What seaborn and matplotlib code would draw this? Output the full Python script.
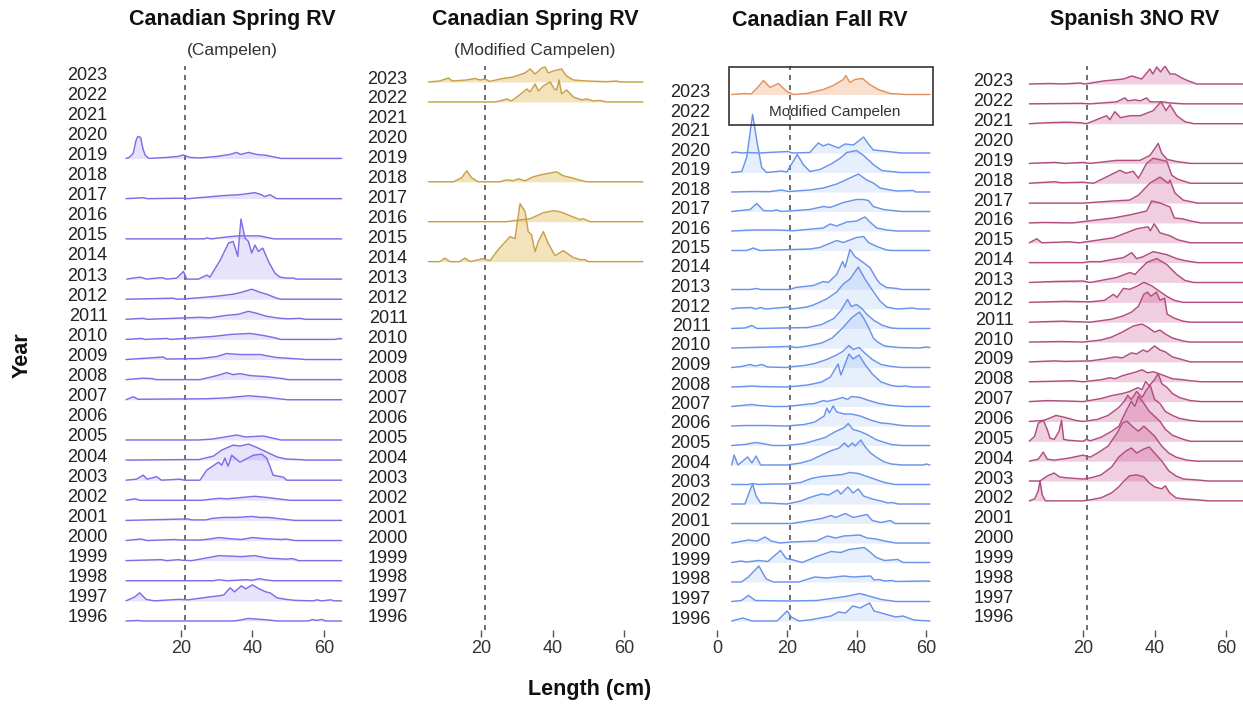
import matplotlib
matplotlib.use('Agg')
import matplotlib.pyplot as plt
from matplotlib.patches import Rectangle
import pandas as pd
import seaborn as sns

sns.set_theme(style='white')
plt.rcParams['font.family'] = ['Liberation Sans', 'DejaVu Sans']

# length frequencies per survey year: (length cm, relative frequency)
spring_camp = {
    2019: [(4.6,0),(5.5,1),(6.6,5),(7.4,18),(7.9,22),(8.7,21),(9.3,10),(10,3),(11,0),(16,1),(19.2,2),(20.6,3.5),(22.5,1),(25.3,0.5),(30,2),(33.7,4),(35.6,6),(36.7,4),(38.9,6),(41.2,4),(44,3),(46.8,1),(48,0),(65,0)],
    2017: [(4.6,0),(9.4,1),(10.5,0),(20.5,0.5),(22,0),(31.7,3),(36.5,4),(40.7,6),(42.5,4),(43.5,2),(44.9,4),(46.8,0),(65,0)],
    2015: [(4.6,0),(26.5,0),(27.2,1),(28.5,0),(33,2),(36,3),(42,3),(46,0),(65,0)],
    2013: [(4.8,0),(8.5,2),(10.4,0),(14.6,1.5),(16,0),(18.8,1),(20.7,7.7),(21.6,0),(24.9,0),(27.2,4),(28.1,2),(31,19),(33.3,36),(34.6,37.7),(35.9,22.7),(36.8,60),(37.9,41),(38.9,37.7),(39.8,26),(40.7,34),(41.7,27.7),(42.9,31),(44.5,17.7),(46.3,6),(47.7,2),(49.6,1),(51.5,1),(52.4,0),(65,0)],
    2012: [(4.6,0),(17.8,1),(19,0),(21.6,0.5),(25.3,1.5),(30,3),(34.6,5),(37,7),(39.8,10),(42.1,7),(44,5),(46.8,1),(48,0),(65,0)],
    2011: [(4.6,0),(9.4,1),(10.5,0),(25.3,2),(28,1.5),(32.8,4),(36,5),(38.9,8),(41.2,6),(44,3),(47.7,1),(50,0.5),(53.3,1),(55,0),(65,0)],
    2010: [(4.6,0),(9,1),(10,0),(16,1),(17,0),(29,3),(34,5),(39.3,6),(43,4),(45.8,2),(48,0),(63,0),(64.5,1),(65,0.5)],
    2009: [(4.6,0),(15,2.5),(16,0.5),(25.3,1),(30,3),(32.8,6),(36.5,5),(42.1,5),(46.8,2),(53.3,0.5),(55,0),(65,0)],
    2008: [(4.6,0),(9.4,1.5),(12,1),(13,0),(25.3,0),(30,4),(32.8,7),(34.6,5),(36.5,6),(39.5,4),(44,3),(48.6,1),(50,0),(65,0)],
    2007: [(4.6,0),(6.6,3),(8,0.5),(27.2,1),(33,2),(38.9,4),(44,2.5),(48.6,0.5),(50,0),(65,0)],
    2005: [(4.6,0),(25,0),(29,1),(35.6,5),(38,3),(43,4),(46.8,1),(48,0),(65,0)],
    2004: [(4.6,0),(21.6,0.5),(25,0.5),(29.1,4),(31.4,10),(34.6,15),(36.5,14),(38.9,16),(41,13),(44,8),(47,3),(49.6,1),(53.3,0.5),(55,0),(65,0)],
    2003: [(4.6,0),(7.5,1),(9.4,5),(10.5,1),(13.2,3.5),(14.5,0),(19.7,1),(21,0),(25.3,0),(27.2,10),(30.5,18),(31.4,15),(32.3,22),(33.2,14),(34.2,25),(36.5,18),(40.3,25),(42.6,26),(44,22),(44.9,14),(45.8,5),(48.7,3),(49.6,0),(65,0)],
    2002: [(4.6,0),(7.1,1.5),(8.5,0),(25.6,0),(30.6,2),(33,1.5),(37.5,3),(40.6,4),(43.75,3),(48.1,1),(50.6,0),(65,0)],
    2001: [(4.6,0),(21.9,1.5),(23,0.5),(26.9,0.5),(28.75,2),(31.9,3),(35.6,3),(40,4),(42,3),(44.4,3),(48.1,1.5),(51.9,0),(65,0)],
    2000: [(4.6,0),(8.75,1.5),(10.5,0),(18.1,1),(20,0.5),(25.6,0.5),(28,1.5),(30.6,3),(33.1,2),(36.9,1),(40,3),(43,2),(48.1,1),(49.4,1.5),(51.9,0),(65,0)],
    1999: [(4.6,0),(14.4,1),(16,0),(19.4,1),(20,0.5),(23,0),(26.9,2.5),(30.6,5),(36.9,4),(40.6,5),(44.4,2.5),(49.4,1.5),(51.3,2),(53,0),(65,0)],
    1998: [(4.6,0),(29,0),(30.6,1),(33,0),(38.1,1),(40,0.5),(41.9,2),(44.4,0.5),(46,0),(65,0)],
    1997: [(4.6,0),(7.1,4),(8.4,8),(10.25,1.5),(12.5,0),(19.4,1.5),(22,1),(28.1,4),(30.6,5),(32,6),(33.75,13),(35,9),(36.9,15),(38.1,12),(40,16),(41.9,12),(43.75,9),(45,8),(46.9,3),(49.4,1.5),(51.9,0.5),(56.9,0),(58.1,1),(59.4,0),(61.9,1),(63,0),(65,0)],
    1996: [(4.6,0),(8,0.5),(9,0),(35,0),(37.5,1.5),(38.8,2.5),(44.4,1),(46.9,0),(55.6,0),(56.9,1.5),(58,0.5),(59.4,1.5),(60.5,0),(65,0)],
}

spring_mod = {
    2023: [(5.3,0),(8.5,1),(10.9,4),(12,1),(16,2),(18.3,3.5),(19.8,2),(21.1,3),(22.5,0.5),(25.3,3),(29,5),(32.3,9),(33.7,13),(35.1,8),(37,14),(37.9,15),(38.8,9),(40.2,11),(42.5,13),(43.9,6),(45.8,2),(49.5,1),(55.1,0.3),(57.9,1),(58.8,0),(65.2,0)],
    2022: [(5.3,0),(24,0),(25.3,1),(27.2,3),(28.5,1),(30.4,6),(32.8,13),(33.7,10),(35.1,18),(36,11),(37.4,16),(39.3,20),(40.5,13),(41.1,12),(41.8,22),(42.5,8),(43.9,12),(45.8,5),(48.1,2),(49.5,3),(51.4,1),(53.3,1.5),(55,0),(65.2,0)],
    2018: [(5.3,0),(12.3,0),(14.6,4),(16,11),(17.4,4),(19.2,0),(25.3,0),(27.2,2),(29,1),(30.4,3),(32.3,1),(34.6,5),(37.4,7.5),(41.1,10),(43,6),(45.3,4),(47.7,1.5),(49.5,0),(65.2,0)],
    2016: [(5.3,0),(27,0),(29,1),(33.7,3),(37.4,9),(40.2,11),(42,10),(44.9,6),(47.7,2),(48.6,3),(50.5,0),(65.2,0)],
    2014: [(5.3,0),(8.5,0),(9.9,3.5),(11.3,0),(14,0),(15.5,3.5),(17,0),(20.6,3),(22.5,1),(24.8,12),(28.1,25),(29.5,23),(30.9,58),(32.3,50),(33.2,30),(34.1,27),(35.1,10),(36,20),(37.4,30),(38.8,18),(40.7,6),(43,11),(45.8,4),(47.7,2),(49,2),(50,0),(65.2,0)],
}

fall_mod = {
    2023: [(4.2,0),(8,1),(9.8,0.5),(11.4,6),(13.3,14),(15.2,7),(17.6,11),(20,3),(21.9,0),(25.7,1),(30.5,5),(33.3,9),(36.2,15),(36.9,19),(38.1,12),(39.5,15),(41.7,16),(43.8,10),(46.2,5),(49.6,1),(52,0.5),(54,0),(61,0)],
}

fall_camp = {
    2020: [(4.2,0),(5,1),(7.5,0),(9,0.5),(12,0),(20.4,1.5),(21.5,0),(26.6,0.5),(29,10),(30.5,7),(31.9,9),(34.8,5),(36.7,9),(39.1,8),(42,16),(43.4,9),(44.8,3),(47.7,2),(51.5,0.5),(53,0),(61,0)],
    2019: [(4.2,0),(7.1,1),(8.5,15),(10.2,58),(11.5,30),(12.8,5),(14.2,0),(18.5,1.5),(20,0.5),(23,18),(24.7,8),(26.6,1),(29.5,3),(32.4,8),(35.2,14),(37.2,20),(40,22),(42,17),(44.8,8),(47.2,2),(51.5,0.3),(53,0),(61,0)],
    2018: [(4.2,0),(10.4,0.5),(15,0.3),(18.5,2),(20.5,0.5),(26.6,2),(30.5,4),(34.3,8),(38.1,14),(40.5,18),(42.9,12),(44.8,9),(46.7,4),(49.6,2),(51.5,1),(56.2,1.5),(57,0),(61,0)],
    2017: [(4.2,0),(9.5,2),(11.4,8),(13.3,1),(15.5,0.5),(17.1,1.5),(18.5,0),(26.6,2),(30.5,5),(32.4,4),(36.2,9),(40,12),(42,12),(43.4,11),(44.8,5),(47.7,2),(51.5,0.5),(53,0),(61,0)],
    2016: [(4.2,0),(10.4,1),(17,1),(21.8,0.3),(30.5,3),(32.4,7),(34.3,5),(37.2,9),(40,10),(42.4,14),(43.8,9),(45.8,3),(48.6,1),(51.5,0),(61,0)],
    2015: [(4.2,0),(8.5,0),(10.4,2.5),(12.3,0),(26.6,1.5),(29.5,3),(34.3,10),(36.2,8),(40,13),(42,14),(43.4,8),(45.8,4),(48.6,0.5),(50,0),(61,0)],
    2013: [(4.2,0),(9.5,0),(11.4,1),(12.5,0),(20.9,0),(22.5,2),(27.6,4),(30.5,8),(31.9,7),(34.3,15),(36,28),(36.7,22),(38.1,40),(39.5,33),(41.5,28),(43.8,22),(45.8,10),(46.7,6),(48.6,2),(51.5,1),(53,0),(61,0)],
    2012: [(4.2,0),(6,1),(9.9,1.5),(11,0),(12.5,1.5),(14,0),(20.4,2),(21.5,0),(25.7,2),(27.6,4),(31.4,10),(34.3,17),(36.2,25),(38.1,30),(40.5,42),(42.4,30),(44.3,20),(46.7,8),(48.6,2),(51.5,0),(56.2,1),(57.5,0),(61,0)],
    2011: [(4.2,0),(8,0.5),(10,3),(11.5,0),(26,1),(30,4),(33.5,10),(35.5,18),(37.4,29),(38.5,22),(40,24),(41.5,20),(43,14),(45,8),(47.5,3),(50,0.5),(52,0),(61,0)],
    2010: [(4.2,0),(15,1),(20,1.5),(23,0.5),(26,2),(30,5),(33,10),(36,20),(38.5,30),(40.8,36),(42,30),(43.5,20),(44.8,10),(46,6),(48,2),(52,0.5),(58,0),(60,1),(61,0.5)],
    2009: [(4.2,0),(7,1),(9.5,3),(11,1.5),(12.8,3),(14.5,0.5),(20,0),(22,1),(25,2),(28,4),(31.4,8),(34,12),(36,16),(37.8,22),(39,18),(40.7,20),(42.5,14),(44.5,8),(47,3),(50,1),(53,0),(61,0)],
    2008: [(4.2,0),(8,0.5),(10,1),(12,0.5),(20,0),(26,2),(30,5),(32.5,10),(34.7,23),(35.5,12),(37.8,33),(39,28),(40.7,32),(42.5,22),(44.5,13),(47,5),(50,1.5),(52,0.5),(54,1),(56,0),(61,0)],
    2007: [(4.2,0),(7,1),(10,2),(12,1),(16,0),(20,0),(25,2),(28,3),(30.5,6),(31.5,5),(34,7),(36,9),(37.4,7),(38.5,10),(41,9),(43.5,6),(46.5,3),(50,1),(54,0),(61,0)],
    2006: [(4.2,0),(8,0.5),(14,0.5),(20,0),(25,1.5),(28,4),(30.7,10),(31.5,18),(32.2,13),(33.3,20),(34.3,14),(36.5,12),(38.5,12),(41,10),(44,6),(47,3),(49,2.5),(53,0.5),(56,0),(61,0)],
    2005: [(4.2,0),(8,1),(11,3),(13,2),(16,0),(20,0),(25,2),(28,5),(31,8),(34,14),(36.5,18),(37.6,22),(39,16),(41,14),(43,11),(45.5,6),(48,3),(50,1),(53,0),(61,0)],
    2004: [(4.2,0),(4.9,10),(6,0),(8.8,8),(10,2),(11.2,9),(12.5,0),(20,0),(24,2),(27,5),(30,10),(32.5,14),(35,17),(36.5,22),(37.6,18),(38.8,22),(39.6,19),(41.2,25),(42.5,18),(44,12),(46,7),(48,3),(50,1),(53,0),(59,0),(60,1),(61,0)],
    2003: [(4.2,0),(9,0),(10.2,1),(12,0),(16,0.5),(20,0.5),(24,2),(27,6),(30,8),(33,9),(36,10),(38,12),(40.5,11),(43,8),(45.5,5),(48,2),(51,0),(61,0)],
    2002: [(4.2,0),(8,0),(9.5,14),(10.2,20),(11.2,8),(12.5,1),(15,1),(17,0.5),(20,0),(24,3),(27,7),(30,10),(32,9),(34.5,14),(35.5,10),(37.5,17),(39,11),(40.5,15),(42,8),(44.5,5),(47,3),(49,1),(50,1.5),(52,0),(61,0)],
    2001: [(4.2,0),(21.3,0),(25,2),(30,5),(32.7,8),(34,6),(36.8,10),(39,6),(43,9),(44.5,3),(47,1),(49.7,3),(51,0),(61,0)],
    2000: [(4.2,0),(6,1),(7.4,2),(9,3),(11.5,2),(13.8,6),(15.5,2),(18,0),(21.3,1),(28.5,2),(31.6,7),(34,5),(36.3,7),(40.9,8),(43,5),(45.6,4),(48,2),(51.2,0),(61,0)],
    1999: [(4.2,0),(6.9,1.5),(8.5,0.5),(12,2),(14.6,1),(16.2,6),(18.2,12),(19.8,4),(21.3,3),(24.4,0),(28.6,6),(32.7,11),(35.5,10),(37.8,13),(42.2,15),(44,10),(45.6,5),(48,2),(51.8,3),(53.3,0),(61,0)],
    1998: [(4.2,0),(7,0),(9,5),(12,16),(14.1,3),(16.2,0),(23.4,0),(28,5),(31.5,4),(36.3,6),(38.9,5),(44,6),(45,2),(46.5,2.5),(48,1),(50.2,1.5),(51.2,0.5),(60.5,1),(61,0.5)],
    1997: [(4.2,0),(7,1),(9,6),(11,1),(20,0.5),(28.6,1),(32.7,3),(36.8,5),(40.9,8),(44,5),(47.1,2),(51.2,0),(61,0)],
    1996: [(4.2,0),(7.4,3),(10,0),(17.2,0),(20.1,10),(21.3,4),(23.4,0),(26.5,1),(32.7,5),(34.8,9),(36.8,8),(38.9,15),(41,13),(43.7,18),(45,10),(47.1,8),(51.2,4),(53.3,5),(56.4,1),(61,0)],
}

spanish = {
    2023: [(5,0),(10.8,0.5),(14,0),(19.2,1),(20.5,0),(25.7,3),(28.5,4),(31.3,5),(33.6,8),(36.4,5),(38.7,15),(39.5,10),(40.6,17),(41.7,12),(42.9,18),(44.3,10),(45.7,10),(47.6,6),(49.5,3),(51.8,0),(64.7,0)],
    2022: [(5,0),(19.5,0.5),(22,0),(29.4,2),(31.7,6),(32.5,3),(34.5,4),(36,3),(37.8,6),(38.7,2),(42.4,2),(44,1),(48,0),(64.7,0)],
    2021: [(5,0),(10,1),(15.5,1.5),(19,1),(21,0),(26.6,8),(27.5,4),(28.9,12),(30.5,6),(33.1,8),(36,8),(39.6,13),(41.8,22),(43.2,13),(44.3,19),(46.2,8),(48.5,2),(51,0),(64.7,0)],
    2019: [(5,0),(12,1),(15,0),(20,1),(22,0),(29.4,3),(35.9,3),(38.7,8),(40.1,15),(41,20),(42,10),(43.5,4),(46,2),(50,0),(64.7,0)],
    2018: [(5,0),(12,1.5),(14,0.5),(20,1),(23,0),(27.5,8),(30.3,13),(32,10),(34,12),(35.5,5),(37.8,20),(39.6,25),(43.4,22),(44.8,8),(46.5,4),(50,0),(64.7,0)],
    2017: [(5,0),(20,0),(28,2),(33,3),(35.5,8),(38.7,20),(41.5,26),(43.8,20),(44.3,23),(45.7,10),(48,3),(52,0),(64.7,0)],
    2016: [(5,0),(9,0.5),(17,0),(28.5,5),(33,8),(37.8,12),(39.2,22),(41.5,20),(44.3,16),(45.5,5),(48,4),(50,2),(53,0),(64.7,0)],
    2015: [(5,0),(7.1,4),(8.5,0),(16,1),(19,0),(28.5,5),(35,14),(38.2,16),(38.8,12),(39.9,19),(41.5,10),(44.3,7),(46.5,3),(50,0),(64.7,0)],
    2014: [(5,0),(20,0),(22,1),(25,1),(28,3),(31.3,5),(33.6,10),(35,4),(36.8,6),(39.6,11),(43.4,8),(46.2,4),(48.5,2),(52,0),(64.7,0)],
    2013: [(5,0),(12,1),(20,1.5),(22,0),(29.4,5),(33.1,10),(34.5,8),(37.8,20),(40.6,24),(43.4,18),(46.2,8),(48.5,2),(51,0),(64.7,0)],
    2012: [(5,0),(15,1),(22,0.5),(26,2),(28.5,8),(29.5,5),(31.3,14),(33,13),(35,16),(37,20),(39,17),(41,12),(43.4,6),(45.5,2),(48,0),(64.7,0)],
    2011: [(5,0),(14,1),(18,0.5),(22,0),(28,3),(31,6),(33.5,10),(35.5,16),(37,28),(38,30),(39,26),(40.5,30),(41.5,22),(42.8,24),(43.5,8),(45.5,4),(48,1),(50,0),(64.7,0)],
    2010: [(5,0),(14,0.5),(20,0),(25,2),(28,5),(31,10),(34,16),(36.5,18),(38,15),(40,10),(41.5,12),(43,8),(45,4),(48,1),(50,0),(64.7,0)],
    2009: [(5,0),(12,1),(15,0.5),(22,1),(26,3),(29,5),(31,4),(33.5,9),(35,8),(36.8,12),(38,10),(40,16),(41.5,12),(43,10),(45,5),(48,2),(50,0),(64.7,0)],
    2008: [(5,0),(12,0.5),(17,1),(20,0),(25,2),(27.5,4),(29,3),(31,6),(33,8),(35,10),(36.5,12),(38,9),(39.7,10),(42,7),(45,3),(48,2),(50,1),(53,0),(64.7,0)],
    2007: [(5,0),(10,1),(16,0.5),(20,0),(25,3),(28,6),(31,8),(33,10),(35.3,14),(36.5,12),(37.5,20),(38.5,16),(40,22),(41,28),(42,18),(43.5,14),(45,8),(47,4),(50,1),(53,0),(64.7,0)],
    2006: [(5,0),(9,1),(12.5,6),(15,4),(18,1),(20,0),(24,2),(27,6),(30,14),(31.5,20),(32.5,26),(33.5,22),(35,30),(36.5,24),(37.8,32),(38.8,36),(40,22),(41.5,18),(43,10),(45,6),(47,3),(50,1),(53,0),(64.7,0)],
    2005: [(5,0),(6.5,5),(7.5,18),(8.9,21),(10,12),(10.8,3),(12,2),(13.3,10),(14,21),(14.6,2),(16,1),(20,0),(21,2),(22,0.5),(25,4),(28,10),(30,15),(32,30),(33.5,40),(34.5,35),(35.5,45),(37,38),(38.5,30),(40,25),(41.5,20),(43,12),(45,6),(48,2),(50,0),(64.7,0)],
    2004: [(5,0),(7.5,2),(8.9,9),(10,2),(12,1),(16,3),(20,6),(22,4),(24,8),(27,15),(29.5,28),(31,38),(32.3,40),(34,34),(35.5,30),(37,35),(38.5,30),(40,25),(42,15),(44,8),(46,4),(49,1),(52,0),(64.7,0)],
    2003: [(5,0),(8,0),(10,5),(11.9,8),(13.5,4),(16,3),(20,2),(22,3),(25,6),(28,14),(30,24),(32,30),(33.5,33),(35,28),(37,32),(38.5,34),(40,28),(42,20),(44,10),(46,5),(48,2),(52,1),(55,0),(64.7,0)],
    2002: [(5,0),(6.5,2),(7.5,10),(8,20),(8.6,6),(9.5,0),(20,0),(22,1),(25,3),(28,8),(30,14),(31.5,20),(33,25),(35,26),(37,24),(38.5,18),(40,14),(42,12),(43,15),(44.2,8),(46,3),(48,2),(52,1),(55,0),(64.7,0)],
}

titles = ['Canadian Spring RV', 'Canadian Spring RV', 'Canadian Fall RV', 'Spanish 3NO RV']
subtitles = ['(Campelen)', '(Modified Campelen)', '', '']
years = list(range(1996, 2024))
cutoff = 21  # dashed reference length

W, H = 1243, 704
fig = plt.figure(figsize=(W / 100, H / 100), dpi=100)


def add_ax(left, right, top=66, bottom=630):
    return fig.add_axes([left / W, 1 - bottom / H, (right - left) / W, (bottom - top) / H])


def to_frame(curves):
    rows = []
    for yr, pts in curves.items():
        for length, freq in pts:
            rows.append((yr, length, freq))
    return pd.DataFrame(rows, columns=['year', 'length', 'freq'])


def ridges(ax, curves, line, fill, alpha, row):
    df = to_frame(curves)
    df['y'] = df['year'] + df['freq'] / row
    for yr in sorted(curves, reverse=True):
        g = df[df['year'] == yr]
        ax.fill_between(g['length'], yr, g['y'], color=fill, alpha=alpha, lw=0)
    sns.lineplot(data=df, x='length', y='y', units='year', estimator=None,
                 sort=False, color=line, lw=1.05, ax=ax, legend=False)


panels = [
    dict(data=spring_camp, left=111, right=350, xlim=(0.39, 67.34), b0=78, s=20.11,
         line='#7D6EE8', fill='#7B68EE', alpha=0.18, ticks=[20, 40, 60], lab=5),
    dict(data=spring_mod, left=411, right=650, xlim=(0.45, 67.2), b0=82, s=19.96,
         line='#C9A04A', fill='#DAA520', alpha=0.3, ticks=[20, 40, 60], lab=5),
    dict(data=fall_camp, left=714, right=940, xlim=(-0.86, 63.9), b0=94.5, s=19.5,
         line='#6A93EC', fill='#6495ED', alpha=0.15, ticks=[0, 20, 40, 60], lab=4),
    dict(data=spanish, left=1017, right=1243, xlim=(1.56, 64.7), b0=84, s=19.85,
         line='#B24D80', fill='#C8508C', alpha=0.28, ticks=[20, 40, 60], lab=4),
]
centers = [232, 535, 820, 1135]

for i, p in enumerate(panels):
    ax = add_ax(p['left'], p['right'])
    ridges(ax, p['data'], p['line'], p['fill'], p['alpha'], p['s'])
    if i == 2:
        ridges(ax, fall_mod, '#E0935F', '#E8965F', 0.3, p['s'])
        ax.add_patch(Rectangle((3.4, 2021.44), 58.5, 2.97, fill=False,
                               ec='#333333', lw=1.2, zorder=5))
        ax.text(33.8, 2022.1, 'Modified Campelen', ha='center', va='center',
                fontsize=11, color='#333333')
    ax.axvline(cutoff, color='#555555', lw=1.2, ls=(0, (3, 3)), zorder=0)
    ax.set_xlim(*p['xlim'])
    ax.set_ylim(2023 - (630 - p['b0']) / p['s'], 2023 + (p['b0'] - 66) / p['s'])
    ax.set_yticks([y + p['lab'] / p['s'] for y in years])
    ax.set_yticklabels([str(y) for y in years], fontsize=13, color='#222222')
    ax.set_xticks(p['ticks'])
    ax.set_xticklabels([str(t) for t in p['ticks']], fontsize=13, color='#333333')
    ax.tick_params(axis='y', left=False, length=0, pad=2.5)
    ax.tick_params(axis='x', bottom=True, length=5, width=1, color='#555555', pad=2)
    ax.set_xlabel('')
    ax.set_ylabel('')
    ax.grid(False)
    for sp in ax.spines.values():
        sp.set_visible(False)
    ax.patch.set_alpha(0)
    fig.text(centers[i] / W, 1 - 20 / H, titles[i], ha='center', va='center',
             fontsize=15.5, fontweight='bold', color='#111111')
    if subtitles[i]:
        fig.text(centers[i] / W, 1 - 50 / H, subtitles[i], ha='center', va='center',
                 fontsize=12.5, color='#333333')

fig.text(22 / W, 1 - 355 / H, 'Year', rotation=90, ha='center', va='center',
         fontsize=15.5, fontweight='bold', color='#111111')
fig.text(590 / W, 1 - 690 / H, 'Length (cm)', ha='center', va='center',
         fontsize=15.5, fontweight='bold', color='#111111')

fig.savefig('out.png', dpi=100)
